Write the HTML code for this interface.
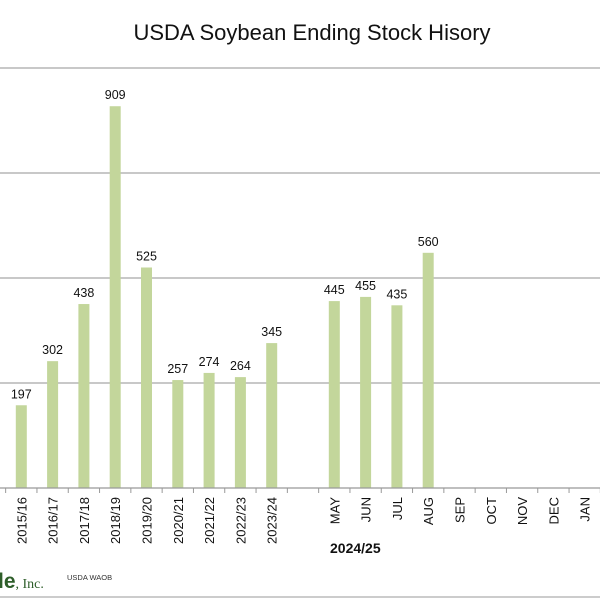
<!DOCTYPE html>
<html><head><meta charset="utf-8"><style>
body{margin:0;background:#fff;}
svg{display:block;font-family:"Liberation Sans",sans-serif;}
</style></head><body>
<svg id="chart" width="600" height="600">
<text x="312" y="40" text-anchor="middle" font-size="22" fill="#111">USDA Soybean Ending Stock Hisory</text>
<g id="grid"></g><g id="bars"></g><g id="labels"></g><g id="ticks"></g>
<text x="330" y="553" font-size="14" font-weight="bold" fill="#111">2024/25</text>
<text x="-2" y="588" font-size="21" font-weight="bold" fill="#2e5e2a">le<tspan font-size="14" font-weight="normal" font-family="Liberation Serif">, Inc.</tspan></text>
<text x="67" y="580" font-size="7.5" fill="#333">USDA WAOB</text>
<line x1="0" y1="597" x2="600" y2="597" stroke="#bbb" stroke-width="1.5"/>
</svg>
<script>
const categories=["2014/15","2015/16","2016/17","2017/18","2018/19","2019/20","2020/21","2021/22","2022/23","2023/24","","MAY","JUN","JUL","AUG","SEP","OCT","NOV","DEC","JAN"];
const values=[191,197,302,438,909,525,257,274,264,345,null,445,455,435,560,null,null,null,null,null];
const gridValues=[250,500,750,1000];
const NS="http://www.w3.org/2000/svg";
const y=v=>488-v*0.42;
const x=i=>-10+i*31.3;
function mk(t,a,p){const e=document.createElementNS(NS,t);for(const k in a)e.setAttribute(k,a[k]);p.appendChild(e);return e;}
const g=document.getElementById('grid'),b=document.getElementById('bars'),l=document.getElementById('labels'),tk=document.getElementById('ticks');
gridValues.forEach(v=>{const e=mk('line',{x1:0,x2:600,y1:y(v),y2:y(v),stroke:'#a6a6a6','stroke-width':1.2},g);

});
const ax=mk('line',{x1:0,x2:600,y1:488,y2:488,stroke:'#999','stroke-width':1.2},tk);


categories.forEach((c,i)=>{
 const cx=x(i);
 const t=mk('line',{x1:cx+15.65,x2:cx+15.65,y1:488,y2:493,stroke:'#999'},tk);
 
 
 if(c){const tl=mk('text',{x:0,y:0,'font-size':13,fill:'#111','text-anchor':'end',transform:`translate(${cx+5},497) rotate(-90)`},tk);tl.textContent=c;
 
 }
 const v=values[i];
 if(v!=null){
  const r=mk('rect',{x:cx-5.5,y:y(v),width:11,height:488-y(v),fill:'#c3d69b'},b);
  
  
  const tl=mk('text',{x:cx,y:y(v)-7,'font-size':12.5,fill:'#111','text-anchor':'middle'},l);tl.textContent=v;
  
  
 }
});
</script>
</body></html>
